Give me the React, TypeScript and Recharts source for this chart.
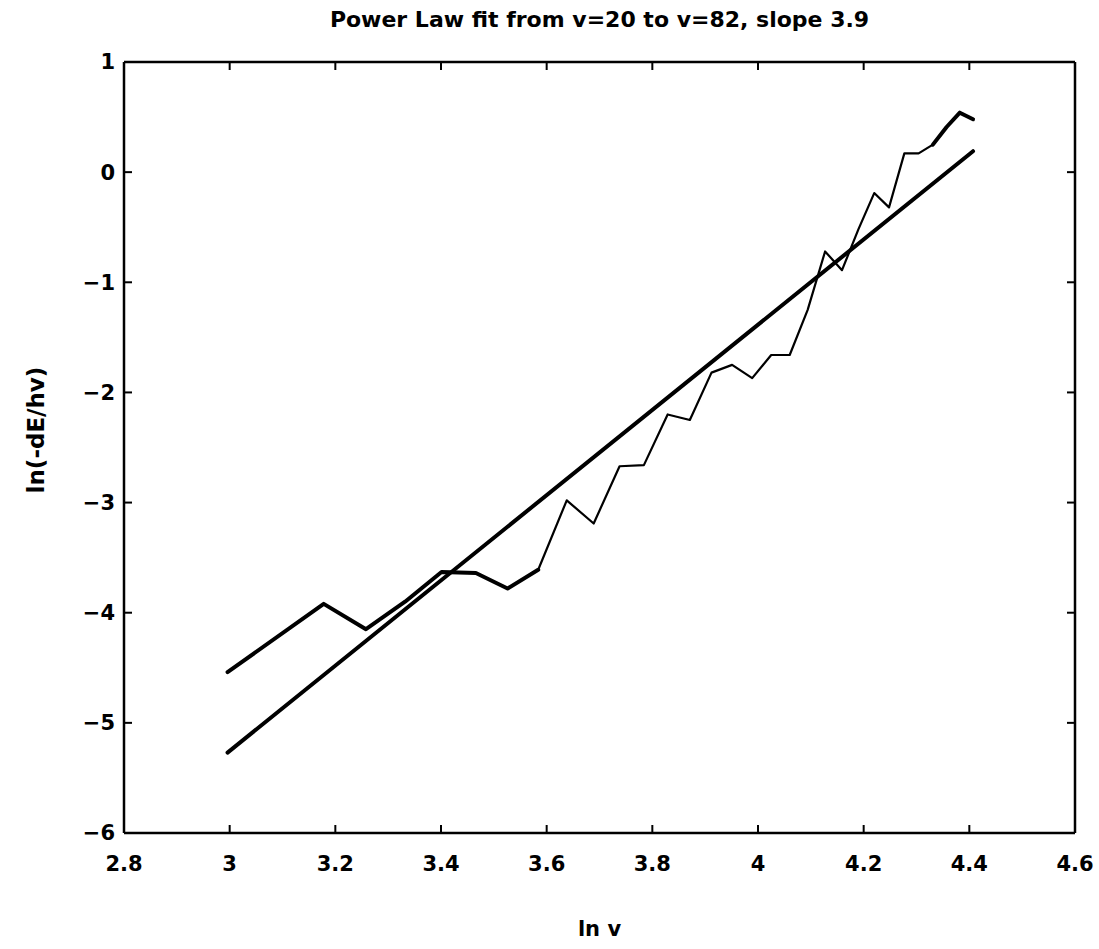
import React from 'react';
import { LineChart, Line, XAxis, YAxis } from 'recharts';

const xTicks = [2.8, 3, 3.2, 3.4, 3.6, 3.8, 4, 4.2, 4.4, 4.6];
const yTicks = [-6, -5, -4, -3, -2, -1, 0, 1];

// ln v (v = 20, 24, 26, ... 82)
const lnV = [
  2.996, 3.178, 3.258, 3.332, 3.401, 3.466, 3.526, 3.584, 3.638, 3.689,
  3.738, 3.784, 3.829, 3.871, 3.912, 3.951, 3.989, 4.025, 4.06, 4.094,
  4.127, 4.159, 4.19, 4.22, 4.248, 4.277, 4.304, 4.331, 4.357, 4.382, 4.407,
];
// ln(-dE/hv)
const lnRate = [
  -4.54, -3.92, -4.15, -3.9, -3.63, -3.64, -3.78, -3.61, -2.98, -3.19,
  -2.67, -2.66, -2.2, -2.25, -1.82, -1.75, -1.87, -1.66, -1.66, -1.25,
  -0.72, -0.89, -0.52, -0.19, -0.32, 0.17, 0.17, 0.25, 0.41, 0.54, 0.48,
];

const fitX = [2.996, 4.407];
const fitY = [-5.27, 0.19];

const titleText = 'Power Law fit from v=20 to v=82, slope 3.9';
const xLabel = 'ln v';
const yLabel = 'ln(-dE/hv)';

const measured = lnV.map((x, i) => ({ x, y: lnRate[i] }));
const fit = fitX.map((x, i) => ({ x, y: fitY[i] }));
const seg1 = measured.slice(0, 8);
const seg2 = measured.slice(7, 28);
const seg3 = measured.slice(27);

const font = 'DejaVu Sans, sans-serif';
const tickStyle = { fill: '#000', fontSize: 21, fontWeight: 'bold' as const, fontFamily: font };
const fmt = (v: number) => String(v).replace('-', '\u2212');
const Nothing = () => <g />;
const axisStroke = { stroke: '#000', strokeWidth: 2.5 };
const tickStroke = { stroke: '#000', strokeWidth: 2 };

export default function App() {
  return (
    <div style={{ position: 'absolute', left: 0, top: 0, width: 1099, height: 949, background: '#fff' }}>
      <LineChart width={1099} height={949} margin={{ top: 62, right: 24, bottom: 0, left: 0 }}>
        <XAxis xAxisId="b" type="number" dataKey="x" domain={[2.8, 4.6]} ticks={xTicks} interval={0}
          allowDataOverflow orientation="bottom" height={116} tickSize={0} tickMargin={23} tickLine={false}
          axisLine={axisStroke} tick={tickStyle} tickFormatter={fmt} />
        <XAxis xAxisId="bm" type="number" dataKey="x" domain={[2.8, 4.6]} ticks={xTicks} interval={0}
          allowDataOverflow orientation="bottom" mirror tickSize={8} tickLine={tickStroke} axisLine={false} tick={<Nothing />} />
        <XAxis xAxisId="t" type="number" dataKey="x" domain={[2.8, 4.6]} ticks={xTicks} interval={0}
          allowDataOverflow orientation="top" mirror tickSize={8} tickLine={tickStroke} axisLine={axisStroke} tick={<Nothing />} />
        <YAxis yAxisId="l" type="number" domain={[-6, 1]} ticks={yTicks} interval={0} allowDataOverflow
          orientation="left" width={124} tickSize={0} tickMargin={9} tickLine={false} axisLine={axisStroke}
          tick={tickStyle} tickFormatter={fmt} />
        <YAxis yAxisId="lm" type="number" domain={[-6, 1]} ticks={yTicks} interval={0} allowDataOverflow
          orientation="left" mirror tickSize={8} tickLine={tickStroke} axisLine={false} tick={<Nothing />} />
        <YAxis yAxisId="r" type="number" domain={[-6, 1]} ticks={yTicks} interval={0} allowDataOverflow
          orientation="right" mirror tickSize={8} tickLine={tickStroke} axisLine={axisStroke} tick={<Nothing />} />
        <Line xAxisId="b" yAxisId="l" data={fit} dataKey="y" type="linear" stroke="#000" strokeWidth={4}
          dot={false} isAnimationActive={false} strokeLinecap="round" />
        <Line xAxisId="b" yAxisId="l" data={seg1} dataKey="y" type="linear" stroke="#000" strokeWidth={4}
          dot={false} isAnimationActive={false} strokeLinecap="round" strokeLinejoin="round" />
        <Line xAxisId="b" yAxisId="l" data={seg2} dataKey="y" type="linear" stroke="#000" strokeWidth={2.2}
          dot={false} isAnimationActive={false} strokeLinejoin="round" />
        <Line xAxisId="b" yAxisId="l" data={seg3} dataKey="y" type="linear" stroke="#000" strokeWidth={4}
          dot={false} isAnimationActive={false} strokeLinecap="round" strokeLinejoin="round" />
      </LineChart>
      <div style={{ position: 'absolute', left: 124, width: 951, top: 7, textAlign: 'center', fontFamily: font,
        fontSize: 22, fontWeight: 'bold', color: '#000', whiteSpace: 'nowrap' }}>{titleText}</div>
      <div style={{ position: 'absolute', left: 124, width: 951, top: 917, textAlign: 'center', fontFamily: font,
        fontSize: 21, fontWeight: 'bold', color: '#000', whiteSpace: 'nowrap' }}>{xLabel}</div>
      <div style={{ position: 'absolute', left: 36, top: 430, transform: 'translate(-50%, -50%) rotate(-90deg)',
        fontFamily: font, fontSize: 23, fontWeight: 'bold', color: '#000', whiteSpace: 'nowrap' }}>{yLabel}</div>
    </div>
  );
}
